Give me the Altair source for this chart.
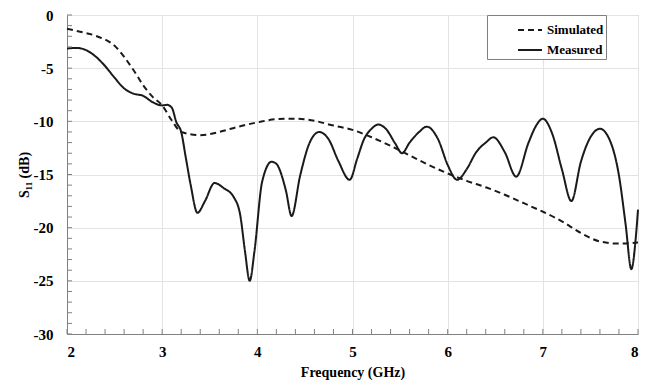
import altair as alt
import pandas as pd

# Simulated S11 (dB)
sim_freq = [2.0, 2.15, 2.3, 2.5, 2.7, 2.8, 2.9, 3.0, 3.1, 3.2, 3.4, 3.6, 3.8, 4.0, 4.2, 4.4, 4.6,
            4.8, 5.0, 5.2, 5.4, 5.6, 5.8, 6.0, 6.2, 6.4, 6.6, 6.8, 7.0, 7.2, 7.4, 7.6, 7.8, 8.0]
sim_s11 = [-1.3, -1.6, -1.95, -2.9, -5.2, -6.6, -7.7, -8.5, -9.9, -11.0, -11.3, -11.0, -10.5,
           -10.1, -9.8, -9.75, -9.95, -10.4, -10.8, -11.5, -12.3, -13.2, -14.1, -14.9, -15.6,
           -16.2, -16.9, -17.7, -18.5, -19.4, -20.5, -21.3, -21.5, -21.4]

# Measured S11 (dB)
meas_freq = [2.0, 2.1, 2.2, 2.3, 2.4, 2.5, 2.6, 2.7, 2.8, 2.9, 3.0, 3.05, 3.1, 3.15, 3.2, 3.25,
             3.3, 3.37, 3.45, 3.55, 3.65, 3.75, 3.82, 3.87, 3.92, 3.97, 4.05, 4.15, 4.2, 4.3,
             4.36, 4.45, 4.55, 4.65, 4.75, 4.85, 4.97, 5.05, 5.12, 5.2, 5.27, 5.35, 5.45, 5.52,
             5.6, 5.7, 5.78, 5.9, 6.0, 6.1, 6.2, 6.3, 6.4, 6.48, 6.6, 6.72, 6.85, 6.93, 7.0,
             7.1, 7.2, 7.3, 7.4, 7.5, 7.6, 7.7, 7.8, 7.87, 7.93, 7.98, 8.0]
meas_s11 = [-3.15, -3.1, -3.3, -3.9, -4.8, -5.9, -6.9, -7.4, -7.6, -8.2, -8.5, -8.45, -8.7,
            -10.1, -11.0, -13.5, -16.0, -18.6, -17.5, -15.8, -16.3, -17.1, -18.8, -22.2, -25.0,
            -22.2, -15.7, -13.8, -14.0, -16.5, -18.9, -15.1, -12.0, -11.0, -11.7, -13.7, -15.5,
            -13.5, -11.7, -10.7, -10.3, -10.7, -12.1, -13.0, -12.0, -11.0, -10.5, -11.7, -14.1,
            -15.5, -14.5, -12.9, -12.0, -11.5, -12.9, -15.2, -12.0, -10.4, -9.75, -11.2, -14.5,
            -17.5, -13.8, -11.5, -10.7, -11.7, -15.1, -19.7, -23.9, -20.6, -18.3]

series_names = ["Simulated", "Measured"]
x_major = [2, 3, 4, 5, 6, 7, 8]
y_major = [0, -5, -10, -15, -20, -25, -30]
x_minor = [round(2 + 0.2 * i, 1) for i in range(31)]
y_minor = list(range(-30, 1))

df = pd.concat([
    pd.DataFrame({"freq": sim_freq, "s11": sim_s11, "series": series_names[0]}),
    pd.DataFrame({"freq": meas_freq, "s11": meas_s11, "series": series_names[1]}),
])

FONT = "Liberation Serif"
W, H = 571, 319

x_enc = alt.X("freq:Q", scale=alt.Scale(domain=[2, 8], nice=False, zero=False),
              axis=alt.Axis(values=x_major, title="Frequency (GHz)",
                            labelExpr="toString(datum.value)",
                            labelPadding=10, titlePadding=6))
y_enc = alt.Y("s11:Q", scale=alt.Scale(domain=[-30, 0], nice=False),
              axis=alt.Axis(values=y_major, title="S₁₁ (dB)",
                            labelExpr="toString(datum.value)",
                            labelPadding=14, titlePadding=2))

lines = alt.Chart(df).mark_line(interpolate="monotone", strokeWidth=2, color="#1a1a1a").encode(
    x=x_enc,
    y=y_enc,
    strokeDash=alt.StrokeDash(
        "series:N",
        scale=alt.Scale(domain=series_names, range=[[6, 4], [1, 0]]),
        legend=alt.Legend(
            title=None, orient="none", legendX=420, legendY=0,
            fillColor="white", strokeColor="#808080", padding=2,
            symbolType="stroke", symbolSize=576, symbolStrokeWidth=2,
            symbolStrokeColor="#1a1a1a", symbolOffset=28,
            labelFont=FONT, labelFontWeight="bold", labelFontSize=13, labelColor="black",
            labelOffset=4, rowPadding=-3,
            labelExpr="datum.label + '\u00a0\u00a0\u00a0\u00a0\u00a0\u00a0\u00a0\u00a0\u00a0'",
        ),
    ),
)

xticks = alt.Chart(pd.DataFrame({"freq": x_minor})).mark_rule(color="#808080", strokeWidth=1).encode(
    x="freq:Q", y=alt.value(H), y2=alt.value(H - 5)
)
yticks = alt.Chart(pd.DataFrame({"s11": y_minor})).mark_rule(color="#808080", strokeWidth=1).encode(
    y="s11:Q", x=alt.value(0), x2=alt.value(5)
)

chart = alt.layer(lines, xticks, yticks).properties(
    width=W, height=H,
    padding={"left": 59, "top": 7, "right": 10, "bottom": 46},
    autosize=alt.AutoSizeParams(type="none"),
    background="white",
).configure_view(
    stroke="#a6a6a6", strokeWidth=1
).configure_axis(
    labelFont=FONT, labelFontWeight="bold", labelFontSize=15, labelColor="black",
    titleFont=FONT, titleFontWeight="bold", titleFontSize=14, titleColor="black",
    ticks=False, domainColor="#808080", domainWidth=1,
    grid=True, gridColor="#e3e3e3", gridWidth=1,
)

chart.save("out.html", embed_options={"renderer": "svg", "actions": False})
